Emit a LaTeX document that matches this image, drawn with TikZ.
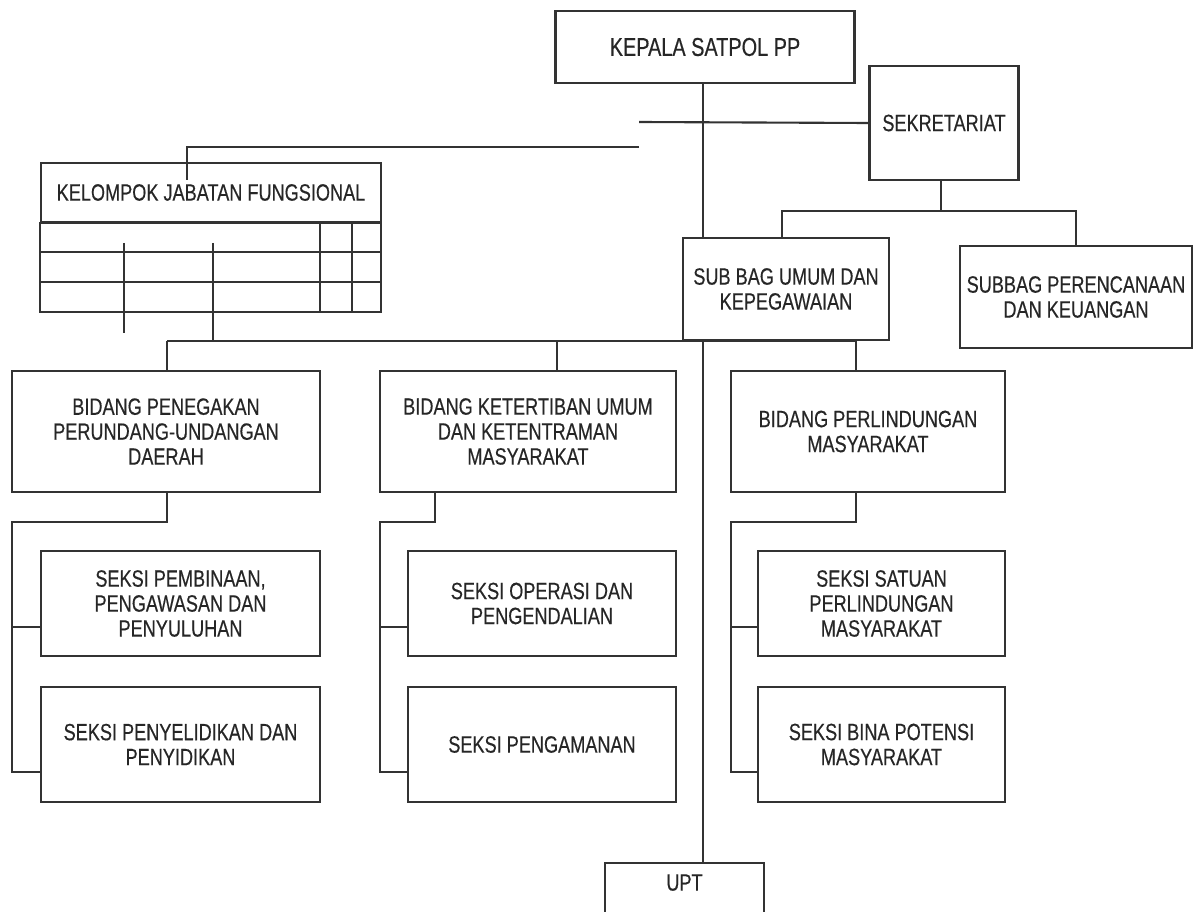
\documentclass[tikz,border=0pt]{standalone}
\usepackage{fontspec}
\setmainfont{Liberation Sans}[FakeStretch=0.77,FakeBold=0.4]
\usepackage{tikz}

\begin{document}
\begin{tikzpicture}[x=0.02cm,y=-0.02cm,line width=1.2pt,black!80,
            unit/.style={draw=black!80,line width=1.2pt,align=center,inner sep=0pt,text=black!85,
                font=\fontsize{13.4}{14.2}\selectfont}]
            \useasboundingbox (0,0) rectangle (1194,912);
            \clip (0,0) rectangle (1194,912);
            % kepala dan sekretariat
            \node[unit,minimum width=5.98cm,minimum height=1.44cm,font=\fontsize{14.7}{15}\selectfont] (kepala) at (705,47) {KEPALA SATPOL PP};
            \node[unit,minimum width=2.98cm,minimum height=2.28cm] (sekre) at (944,123) {SEKRETARIAT};
            \node[unit,minimum width=4.12cm,minimum height=2.04cm] (subbag) at (786,289) {SUB BAG UMUM DAN\\KEPEGAWAIAN};
            \node[unit,minimum width=4.64cm,minimum height=2.04cm] (renkeu) at (1076,297) {SUBBAG PERENCANAAN\\DAN KEUANGAN};
            % jabatan fungsional
            \node[unit,minimum width=6.8cm,minimum height=1.18cm] (jabfung) at (211,192.5) {KELOMPOK JABATAN FUNGSIONAL};
            \draw (jabfung.south west) rectangle (381,312);
            \foreach \y in {252,282} \draw (41,\y) -- (381,\y);
            \foreach \x in {320,352} \draw (\x,222) -- (\x,312);
            \draw (124,243) -- (124,333);
            \draw (213,243) -- (213,341);
            % bidang
            \node[unit,minimum width=6.16cm,minimum height=2.42cm] (bid1) at (166,431.5) {BIDANG PENEGAKAN\\PERUNDANG-UNDANGAN\\DAERAH};
            \node[unit,minimum width=5.92cm,minimum height=2.42cm] (bid2) at (528,431.5) {BIDANG KETERTIBAN UMUM\\DAN KETENTRAMAN\\MASYARAKAT};
            \node[unit,minimum width=5.48cm,minimum height=2.42cm] (bid3) at (868,431.5) {BIDANG PERLINDUNGAN\\MASYARAKAT};
            % seksi
            \node[unit,minimum width=5.58cm,minimum height=2.1cm] (sek11) at (180.5,603.5) {SEKSI PEMBINAAN,\\PENGAWASAN DAN\\PENYULUHAN};
            \node[unit,minimum width=5.58cm,minimum height=2.3cm] (sek12) at (180.5,744.5) {SEKSI PENYELIDIKAN DAN\\PENYIDIKAN};
            \node[unit,minimum width=5.36cm,minimum height=2.1cm] (sek21) at (542,603.5) {SEKSI OPERASI DAN\\PENGENDALIAN};
            \node[unit,minimum width=5.36cm,minimum height=2.3cm] (sek22) at (542,744.5) {SEKSI PENGAMANAN};
            \node[unit,minimum width=4.94cm,minimum height=2.1cm] (sek31) at (881.5,603.5) {SEKSI SATUAN\\PERLINDUNGAN\\MASYARAKAT};
            \node[unit,minimum width=4.94cm,minimum height=2.3cm] (sek32) at (881.5,744.5) {SEKSI BINA POTENSI\\MASYARAKAT};
            \node[unit,minimum width=3.18cm,minimum height=1.14cm,text depth=0.36cm] (upt) at (684.5,891.5) {UPT};
            % garis
            \coordinate (spine) at (703,341);
            \draw (kepala.south -| spine) -- (subbag.north -| spine);
            \draw (subbag.south -| spine) -- (upt.north -| spine);
            \coordinate (sekL) at (639,122);
            \draw (sekre.west) -- (sekL);
            \coordinate (jfR) at (639,147);
            \coordinate (jfT) at (187,180);
            \draw (jfR) -| (jfT);
            \coordinate (sbus) at (941,211);
            \coordinate (sbL) at (782,211);
            \draw (sekre.south -| sbus) -- (sbus);
            \draw (sbL |- subbag.north) -- (sbL) -- (renkeu.north |- sbL) -- (renkeu.north);
            \foreach \x/\n in {167/bid1,557/bid2,856/bid3}{
                \coordinate (top\n) at (\x,341);
                \draw (top\n) -- (top\n |- \n.north);
            }
            \draw (topbid1) -- (topbid3);
            \foreach \n/\s/\t/\dx/\lx in {bid1/sek11/sek12/167/12,bid2/sek21/sek22/435/380,bid3/sek31/sek32/856/731}{
                \coordinate (h\n) at (\dx,522);
                \coordinate (a\n) at (\lx,627);
                \coordinate (b\n) at (\lx,772);
                \draw (h\n |- \n.south) -- (h\n) -| (b\n) -- (b\n -| \t.west);
                \draw (a\n) -- (a\n -| \s.west);
            }
        \end{tikzpicture}
\end{document}
